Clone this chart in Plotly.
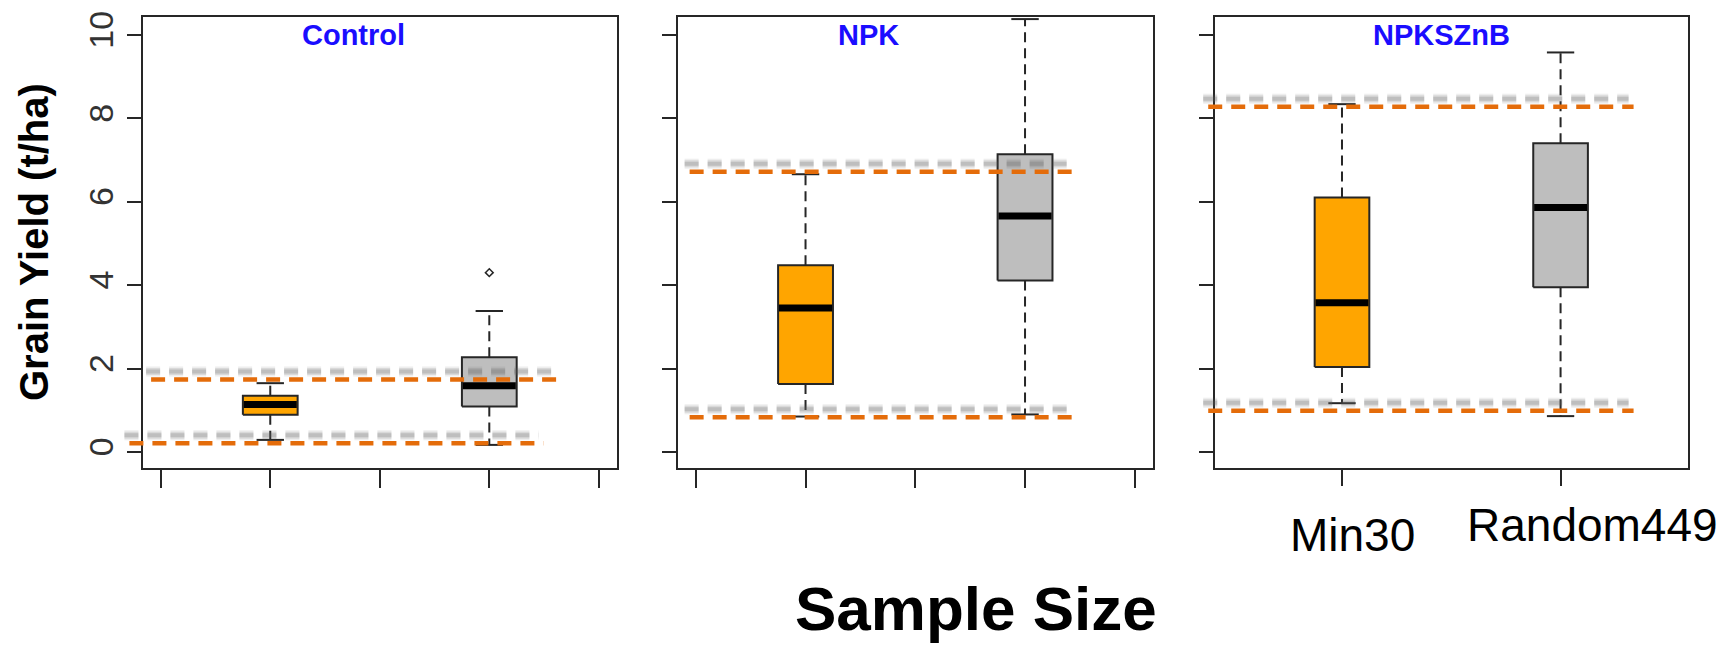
import plotly.graph_objects as go

# ---------------- data ----------------
panels = ["Control", "NPK", "NPKSZnB"]
groups = ["Min30", "Random449"]
group_pos = [1, 2]

lower_whisker = [[0.29, 0.17], [0.85, 0.90], [1.17, 0.86]]
q1 = [[0.89, 1.09], [1.63, 4.11], [2.04, 3.95]]
median = [[1.14, 1.59], [3.45, 5.66], [3.58, 5.86]]
q3 = [[1.35, 2.27], [4.48, 7.14], [6.10, 7.40]]
upper_whisker = [[1.65, 3.38], [6.66, 10.38], [8.34, 9.58]]
outliers = [[[], [4.30]], [[], []], [[], []]]

band_upper = [1.74, 6.72, 8.28]
band_lower = [0.21, 0.83, 0.99]

y_ticks = [0, 2, 4, 6, 8, 10]
x_ticks_full = [0.5, 1, 1.5, 2, 2.5]
x_ticks_last = [1, 2]

# ---------------- layout constants ----------------
W, H = 1729, 646
box_colors = ["#FFA500", "#BEBEBE"]
band_color = "#E46C0A"
ink = "#262626"
x_range = [0.419, 2.583]
y_range = [-0.384, 10.43]
panel_px = [(143, 617), (678, 1153), (1215, 1688)]
y_dom = [1 - 468 / H, 1 - 17 / H]
half_box = 0.125
half_cap = 0.0625
# x extents (data units) of the dashed reference lines per panel: (upper, lower)
band_extent = [((0.456, 2.32), (0.357, 2.248)),
               ((0.472, 2.222), (0.472, 2.222)),
               ((0.388, 2.334), (0.388, 2.334))]
title_x = [1.379, 1.289, 1.457]

px_per_unit_y = (y_dom[1] - y_dom[0]) * H / (y_range[1] - y_range[0])

fig = go.Figure()

def dom(xv):
    return (xv - x_range[0]) / (x_range[1] - x_range[0])

for p, name in enumerate(panels):
    sfx = "" if p == 0 else str(p + 1)
    xa, ya = "x" + sfx, "y" + sfx
    for g in range(2):
        c = group_pos[g]
        # box
        fig.add_trace(go.Scatter(
            x=[c - half_box, c + half_box, c + half_box, c - half_box, c - half_box],
            y=[q1[p][g], q1[p][g], q3[p][g], q3[p][g], q1[p][g]],
            mode="lines", fill="toself", fillcolor=box_colors[g],
            line=dict(color=ink, width=2), xaxis=xa, yaxis=ya,
            showlegend=False, hoverinfo="skip"))
        # whiskers (dashed)
        fig.add_trace(go.Scatter(
            x=[c, c, None, c, c],
            y=[q3[p][g], upper_whisker[p][g], None, q1[p][g], lower_whisker[p][g]],
            mode="lines", line=dict(color=ink, width=2, dash="10px,6px"),
            xaxis=xa, yaxis=ya, showlegend=False, hoverinfo="skip"))
        # caps
        fig.add_trace(go.Scatter(
            x=[c - half_cap, c + half_cap, None, c - half_cap, c + half_cap],
            y=[upper_whisker[p][g]] * 2 + [None] + [lower_whisker[p][g]] * 2,
            mode="lines", line=dict(color=ink, width=2),
            xaxis=xa, yaxis=ya, showlegend=False, hoverinfo="skip"))
        # median
        fig.add_trace(go.Scatter(
            x=[c - half_box + 0.004, c + half_box - 0.004],
            y=[median[p][g]] * 2,
            mode="lines", line=dict(color="black", width=7),
            xaxis=xa, yaxis=ya, showlegend=False, hoverinfo="skip"))
        if outliers[p][g]:
            fig.add_trace(go.Scatter(
                x=[c] * len(outliers[p][g]), y=outliers[p][g], mode="markers",
                marker=dict(symbol="diamond-open", size=6, color=ink, line=dict(width=1.5)),
                xaxis=xa, yaxis=ya, showlegend=False, hoverinfo="skip"))

    # dashed reference lines with blurred gray shadow
    panel_w = panel_px[p][1] - panel_px[p][0]
    sh_dx = -5 / panel_w
    sh_dy = 8 / px_per_unit_y
    for val, (x0, x1) in zip([band_upper[p], band_lower[p]], band_extent[p]):
        for wdt, op in [(10, 0.10), (7, 0.14), (4, 0.22)]:
            fig.add_shape(type="line", xref=xa + " domain", yref=ya,
                          x0=dom(x0) + sh_dx, x1=dom(x1) + sh_dx,
                          y0=val + sh_dy, y1=val + sh_dy,
                          line=dict(color="#606060", width=wdt, dash="14px,9px"),
                          opacity=op, layer="above")
        fig.add_shape(type="line", xref=xa + " domain", yref=ya,
                      x0=dom(x0), x1=dom(x1), y0=val, y1=val,
                      line=dict(color=band_color, width=4.5, dash="14px,9px"),
                      layer="above")

    # panel title
    fig.add_annotation(text=name, xref=xa, yref=ya, x=title_x[p], y=10.0,
                       xanchor="center", yanchor="middle", showarrow=False,
                       font=dict(family="Liberation Sans, Arial, sans-serif",
                                 size=29, color="#1a0dff", weight="bold"))

    x0p, x1p = panel_px[p]
    xaxis = dict(domain=[x0p / W, x1p / W], range=x_range, anchor=ya,
                 showgrid=False, zeroline=False, showline=True, mirror=True,
                 linecolor=ink, linewidth=2, ticks="outside",
                 ticklen=18 if p < 2 else 16, tickwidth=2, tickcolor=ink,
                 tickvals=x_ticks_full if p < 2 else x_ticks_last,
                 showticklabels=False, automargin=False, fixedrange=True)
    yaxis = dict(domain=y_dom, range=y_range, anchor=xa,
                 showgrid=False, zeroline=False, showline=True, mirror=True,
                 linecolor=ink, linewidth=2, ticks="outside", ticklen=14,
                 tickwidth=2, tickcolor=ink, tickvals=y_ticks,
                 showticklabels=(p == 0), tickangle=-90,
                 tickfont=dict(family="Liberation Sans, Arial, sans-serif", size=34, color="#333333"),
                 automargin=False, fixedrange=True)
    fig.update_layout(**{"xaxis" + sfx: xaxis, "yaxis" + sfx: yaxis})

# category labels under the last panel
label_x = [1.048, 2.146]
label_y_px = [535, 525]
for g, lab in enumerate(groups):
    fig.add_annotation(text=lab, xref="x3", yref="paper", x=label_x[g],
                       y=1 - label_y_px[g] / H, xanchor="center", yanchor="middle",
                       showarrow=False,
                       font=dict(family="Liberation Sans, Arial, sans-serif", size=46, color="black"))

# axis titles
fig.add_annotation(text="Sample Size", xref="paper", yref="paper", x=976 / W,
                   y=1 - 608 / H, xanchor="center", yanchor="middle", showarrow=False,
                   font=dict(family="Liberation Sans, Arial, sans-serif", size=62,
                             color="black", weight="bold"))
fig.add_annotation(text="Grain Yield (t/ha)", xref="paper", yref="paper", x=34 / W,
                   y=1 - 242 / H, xanchor="center", yanchor="middle", textangle=-90,
                   showarrow=False,
                   font=dict(family="Liberation Sans, Arial, sans-serif", size=40,
                             color="black", weight="bold"))

fig.update_layout(width=W, height=H, margin=dict(l=0, r=0, t=0, b=0),
                  paper_bgcolor="white", plot_bgcolor="white", showlegend=False)

fig.write_html("out.html", config={"displayModeBar": False},
               post_script="document.body.style.margin='0';document.body.style.padding='0';")
